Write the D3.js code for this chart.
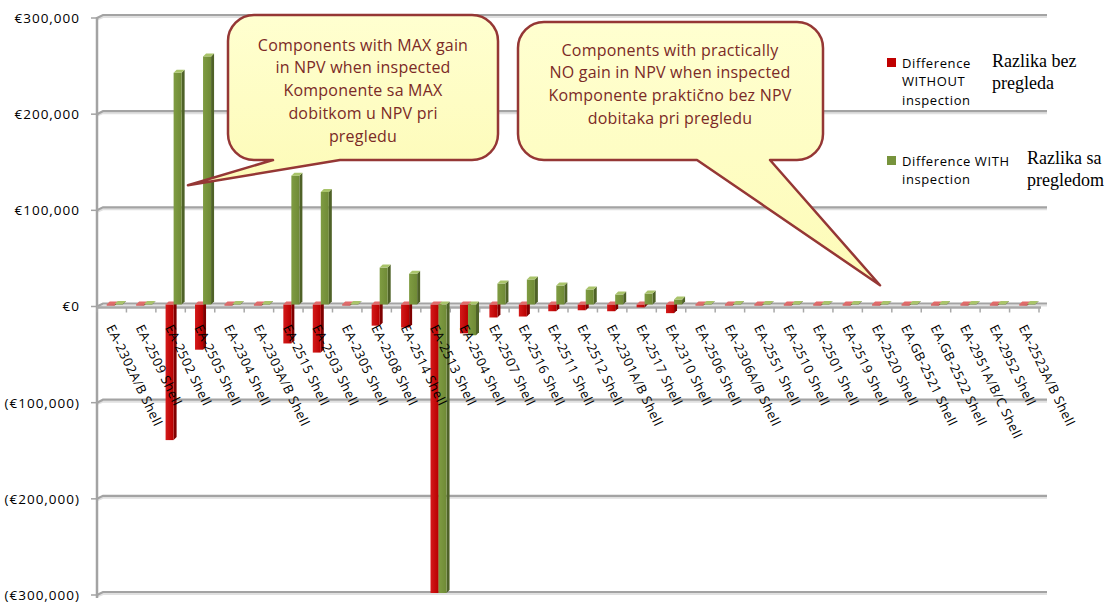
<!DOCTYPE html>
<html>
<head>
<meta charset="utf-8">
<script src="https://cdn.jsdelivr.net/npm/d3@7/dist/d3.min.js"></script>
<style>
  html, body { margin: 0; padding: 0; background: #fff; }
  svg { display: block; }
</style>
</head>
<body>
<svg id="chart" width="1108" height="604"></svg>
<script>
// ---------------- DATA ----------------
const categories = [
  "EA-2302A/B Shell", "EA-2509 Shell", "EA-2502 Shell", "EA-2505 Shell", "EA-2304 Shell",
  "EA-2303A/B Shell", "EA-2515 Shell", "EA-2503 Shell", "EA-2305 Shell", "EA-2508 Shell",
  "EA-2514 Shell", "EA-2513 Shell", "EA-2504 Shell", "EA-2507 Shell", "EA-2516 Shell",
  "EA-2511 Shell", "EA-2512 Shell", "EA-2301A/B Shell", "EA-2517 Shell", "EA-2310 Shell",
  "EA-2506 Shell", "EA-2306A/B Shell", "EA-2551 Shell", "EA-2510 Shell", "EA-2501 Shell",
  "EA-2519 Shell", "EA-2520 Shell", "EA.GB-2521 Shell", "EA.GB-2522 Shell", "EA-2951A/B/C Shell",
  "EA-2952 Shell", "EA-2523A/B Shell"
];
const diffWithout = [
  -1000, -1000, -141000, -47000, -1000, -1000, -40500, -50000, -1000, -22000,
  -24000, -300000, -30000, -13500, -12500, -7000, -6000, -7000, -3000, -9000,
  -1000, -1000, -1000, -1000, -1000, -1000, -1000, -1000, -1000, -1000,
  -1000, -1000
];
const diffWith = [
  500, 500, 241000, 258000, 500, 500, 134000, 117000, 500, 38400,
  32000, -300000, -32000, 21800, 26000, 19700, 15600, 10400, 11400, 5200,
  500, 500, 500, 500, 500, 500, 500, 500, 500, 500,
  500, 500
];
const yTicks = [300000, 200000, 100000, 0, -100000, -200000, -300000];
const seriesNames = ["Difference WITHOUT inspection", "Difference WITH inspection"];
const legendLines = [["Difference", "WITHOUT", "inspection"], ["Difference WITH", "inspection"]];
const legendLocal = [["Razlika bez", "pregleda"], ["Razlika sa", "pregledom"]];
const callout1Lines = ["Components with MAX gain", "in NPV when inspected", "Komponente sa MAX", "dobitkom u NPV pri", "pregledu"];
const callout2Lines = ["Components with practically", "NO gain in NPV when inspected", "Komponente praktično bez NPV", "dobitaka pri pregledu"];

// ---------------- LAYOUT ----------------
const svg = d3.select("#chart");
const X0 = 97, X1 = 1039, BACK_X2 = 1047;
const y = d3.scaleLinear().domain([-300000, 300000]).range([592, 15]);
const x0 = d3.scaleBand().domain(categories).range([X0, X1]).padding(0);
const bw = x0.bandwidth();
const x1 = d3.scaleBand().domain(["without", "with"]).range([bw * 0.33, bw * 0.875]).padding(0);
const depth = 3;

const colors = {
  without: { front: "#c00000", side: "#7f0000", top: "#e26b6b" },
  with: { front: "#77933c", side: "#4f6228", top: "#a9c46a" }
};

const defs = svg.append("defs");
function grad(id, c1, c2) {
  const g = defs.append("linearGradient").attr("id", id).attr("x1", "0").attr("x2", "1").attr("y1", "0").attr("y2", "0");
  g.append("stop").attr("offset", "0").attr("stop-color", c1);
  g.append("stop").attr("offset", "1").attr("stop-color", c2);
}
grad("gRed", "#d41a1a", "#b80000");
grad("gGreen", "#7f9c42", "#6f8a36");
const calloutGrad = defs.append("linearGradient").attr("id", "gCallout").attr("x1", "0").attr("x2", "0").attr("y1", "0").attr("y2", "1");
calloutGrad.append("stop").attr("offset", "0").attr("stop-color", "#ffffd0");
calloutGrad.append("stop").attr("offset", "1").attr("stop-color", "#fdfbb8");

// ---------------- GRIDLINES (back wall) ----------------
const gridG = svg.append("g");
yTicks.forEach(v => {
  const yy = y(v);
  gridG.append("path")
    .attr("d", `M${X0},${yy + 4.5} L${X0 + 6},${yy + 2} L${BACK_X2},${yy + 2}`)
    .attr("fill", "none").attr("stroke", "#e0e0e0").attr("stroke-width", 2);
  gridG.append("path")
    .attr("d", `M${X0},${yy + 3} L${X0 + 6},${yy} L${BACK_X2},${yy}`)
    .attr("fill", "none").attr("stroke", "#a3a3a3").attr("stroke-width", 2.2);
});

// Left value axis
const axisG = svg.append("g");
axisG.append("line").attr("x1", X0).attr("x2", X0).attr("y1", y(300000) + 2).attr("y2", y(-300000) + 6)
  .attr("stroke", "#a3a3a3").attr("stroke-width", 2.5);
yTicks.forEach(v => {
  axisG.append("line").attr("x1", X0 - 6).attr("x2", X0).attr("y1", y(v) + 3).attr("y2", y(v) + 3)
    .attr("stroke", "#a3a3a3").attr("stroke-width", 1.5);
});
const fmt = d3.format(",");
axisG.selectAll("text.ylab").data(yTicks).join("text")
  .attr("class", "ylab")
  .attr("x", 80).attr("y", d => y(d) + 3)
  .attr("dy", "0.36em")
  .attr("text-anchor", "end")
  .attr("font-family", "Open Sans, sans-serif")
  .attr("font-size", 13.5)
  .attr("letter-spacing", 1)
  .attr("fill", "#000")
  .text(d => d < 0 ? `(€${fmt(-d)})` : `€${fmt(d)}`);

// Category (zero) axis line with ticks
const zeroFront = y(0) + 4;
axisG.append("line").attr("x1", X0).attr("x2", X1 + 2).attr("y1", zeroFront).attr("y2", zeroFront)
  .attr("stroke", "#a8a8a8").attr("stroke-width", 2.5);
axisG.selectAll("line.ctick").data(categories.concat(["__end"])).join("line")
  .attr("class", "ctick")
  .attr("x1", (d, i) => X0 + i * bw).attr("x2", (d, i) => X0 + i * bw)
  .attr("y1", zeroFront).attr("y2", zeroFront + 5)
  .attr("stroke", "#a8a8a8").attr("stroke-width", 1.5);

// ---------------- BARS (pseudo-3D) ----------------
const barsG = svg.append("g");
const y0 = y(0) + 1;
function drawBar(g, x, w, v, key) {
  const c = colors[key];
  const yv = y(v) + 1;
  const top = Math.min(yv, y0), bottom = Math.max(yv, y0);
  const d = depth;
  g.append("polygon")
    .attr("points", [[x + w, top], [x + w + d, top - d], [x + w + d, bottom - d], [x + w, bottom]].map(p => p.join(",")).join(" "))
    .attr("fill", c.side);
  g.append("rect").attr("x", x).attr("y", top).attr("width", w).attr("height", Math.max(0.5, bottom - top))
    .attr("fill", key === "without" ? "url(#gRed)" : "url(#gGreen)");
  g.append("polygon")
    .attr("points", [[x, top], [x + d, top - d], [x + w + d, top - d], [x + w, top]].map(p => p.join(",")).join(" "))
    .attr("fill", c.top);
}
categories.forEach((cat, i) => {
  const g = barsG.append("g");
  drawBar(g, x0(cat) + x1("without"), x1.bandwidth(), diffWithout[i], "without");
  drawBar(g, x0(cat) + x1("with"), x1.bandwidth(), diffWith[i], "with");
});

// ---------------- CATEGORY LABELS ----------------
const labG = svg.append("g");
labG.selectAll("text").data(categories).join("text")
  .attr("transform", d => `translate(${x0(d) + 9},${zeroFront + 20}) rotate(64)`)
  .attr("text-anchor", "start")
  .attr("font-family", "Open Sans, sans-serif")
  .attr("font-size", 13)
  .attr("letter-spacing", 0.5)
  .attr("fill", "#000")
  .text(d => d);

// ---------------- LEGEND ----------------
const legG = svg.append("g");
const legendColors = ["#c00000", "#77933c"];
const legendTop = [58, 156];
legendLines.forEach((lines, k) => {
  legG.append("rect").attr("x", 887).attr("y", legendTop[k]).attr("width", 9).attr("height", 9).attr("fill", legendColors[k]);
  lines.forEach((t, j) => {
    legG.append("text").attr("x", 902).attr("y", legendTop[k] + 9.5 + j * 18.5)
      .attr("font-family", "Open Sans, sans-serif").attr("font-size", 13).attr("letter-spacing", 0.6)
      .attr("fill", "#000").text(t);
  });
});
const localPos = [[992, 67], [1027, 164]];
legendLocal.forEach((lines, k) => {
  lines.forEach((t, j) => {
    legG.append("text").attr("x", localPos[k][0]).attr("y", localPos[k][1] + j * 21.5)
      .attr("font-family", "Liberation Serif, Times New Roman, serif").attr("font-size", 18)
      .attr("fill", "#000").text(t);
  });
});

// ---------------- CALLOUTS ----------------
function calloutPath(bx, by, w, h, r, pL, pR, tip) {
  return `M${bx + r},${by} H${bx + w - r} A${r},${r} 0 0 1 ${bx + w},${by + r} V${by + h - r} A${r},${r} 0 0 1 ${bx + w - r},${by + h}` +
    ` H${pR} L${tip[0]},${tip[1]} L${pL},${by + h} H${bx + r} A${r},${r} 0 0 1 ${bx},${by + h - r} V${by + r} A${r},${r} 0 0 1 ${bx + r},${by} Z`;
}
const callG = svg.append("g");
const tip1 = [x0("EA-2502 Shell") + bw * 1.09, y(123000)];
const tip2 = [x0("EA-2520 Shell") + bw * 0.6, y(19000)];
const c1 = { x: 228, y: 15, w: 270, h: 145 };
const c2 = { x: 518, y: 22, w: 305, h: 138 };
callG.append("path").attr("d", calloutPath(c1.x, c1.y, c1.w, c1.h, 26, 273, 340, tip1))
  .attr("fill", "url(#gCallout)").attr("stroke", "#953735").attr("stroke-width", 2.5).attr("stroke-linejoin", "round");
callG.append("path").attr("d", calloutPath(c2.x, c2.y, c2.w, c2.h, 26, 697, 770, tip2))
  .attr("fill", "url(#gCallout)").attr("stroke", "#953735").attr("stroke-width", 2.5).attr("stroke-linejoin", "round");
callout1Lines.forEach((t, j) => {
  callG.append("text").attr("x", 363).attr("y", 45 + j * 22.8).attr("dy", "0.35em")
    .attr("text-anchor", "middle").attr("font-family", "Open Sans, sans-serif").attr("font-size", 16)
    .attr("letter-spacing", 0.2)
    .attr("fill", "#7b2a26").text(t);
});
callout2Lines.forEach((t, j) => {
  callG.append("text").attr("x", 670).attr("y", 50 + j * 22.8).attr("dy", "0.35em")
    .attr("text-anchor", "middle").attr("font-family", "Open Sans, sans-serif").attr("font-size", 16)
    .attr("letter-spacing", 0.2)
    .attr("fill", "#7b2a26").text(t);
});
</script>
</body>
</html>
